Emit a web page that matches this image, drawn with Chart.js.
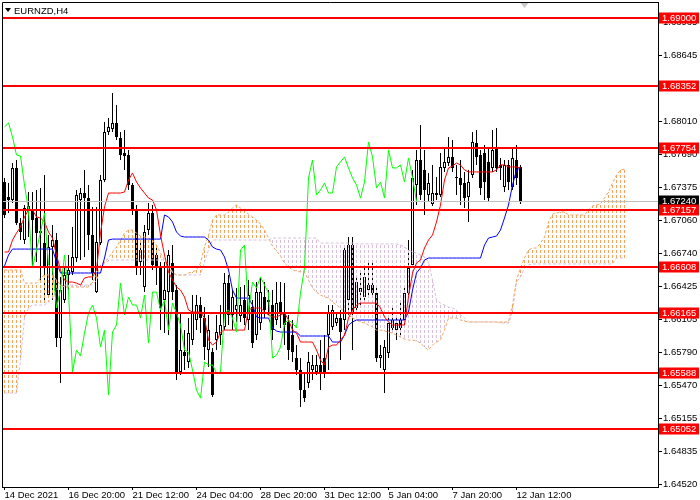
<!DOCTYPE html>
<html><head><meta charset="utf-8">
<style>html,body{margin:0;padding:0;background:#fff;}</style>
<script src="https://cdn.jsdelivr.net/npm/chart.js@4.4.1/dist/chart.umd.min.js"></script>
</head><body>
<canvas id="c" width="700" height="500"></canvas>
<script>
const symbolTitle = 'EURNZD,H4';
const xTickIndex = [0,16,32,48,64,80,96,112,128];
const xTickLabels = ['14 Dec 2021','16 Dec 20:00','21 Dec 12:00','24 Dec 04:00','28 Dec 20:00','31 Dec 12:00','5 Jan 04:00','7 Jan 20:00','12 Jan 12:00'];
const yTicks = [1.68965,1.68645,1.68330,1.68010,1.67690,1.67375,1.67060,1.66740,1.66425,1.66105,1.65790,1.65470,1.65155,1.64835,1.64520];
const levels = [1.69000,1.68352,1.67754,1.67157,1.66608,1.66165,1.65588,1.65052];
const bidPrice = 1.67240;

const open = [
1.67427,1.67283,1.67254,1.67562,1.67033,1.66869,1.67158,1.67158,1.67081,1.66955,
1.66840,1.66340,1.66802,1.66869,1.65926,1.66292,1.66533,1.66562,1.66696,1.67254,
1.67321,1.67273,1.66917,1.66369,1.66840,1.67446,1.67908,1.67937,1.67995,1.67850,
1.67706,1.67687,1.67398,1.67158,1.66658,1.66417,1.66965,1.67129,1.66725,1.66600,
1.66292,1.66369,1.66648,1.66388,1.65600,1.65792,1.65696,1.65907,1.66100,1.66244,
1.66119,1.65811,1.65792,1.65907,1.65955,1.66033,1.66455,1.66148,1.66196,1.66138,
1.66292,1.66100,1.66225,1.65955,1.66071,1.66321,1.66273,1.66244,1.66100,1.66273,
1.66167,1.66081,1.65955,1.65734,1.65619,1.65426,1.65493,1.65619,1.65600,1.65667,
1.65734,1.65955,1.66033,1.66071,1.66119,1.66100,1.66292,1.66821,1.66215,1.66369,
1.66321,1.66388,1.66436,1.66359,1.65734,1.65619,1.65782,1.66023,1.66003,1.66100,
1.66100,1.66359,1.66629,1.67398,1.67639,1.67543,1.67302,1.67216,1.67302,1.67302,
1.67562,1.67610,1.67668,1.67475,1.67466,1.67417,1.67283,1.67495,1.67802,1.67687,
1.67706,1.67620,1.67562,1.67754,1.67591,1.67379,1.67591,1.67379,1.67639,1.67572];
const high = [
1.67466,1.67417,1.67610,1.67639,1.67081,1.67206,1.67331,1.67331,1.67350,1.67369,
1.67495,1.66917,1.67014,1.66936,1.66514,1.66600,1.66725,1.66995,1.67350,1.67369,
1.67543,1.67398,1.67187,1.67187,1.67495,1.68005,1.68043,1.68283,1.68168,1.67908,
1.67927,1.67735,1.67417,1.67206,1.66869,1.67014,1.67225,1.67206,1.66821,1.66658,
1.66658,1.66773,1.66821,1.66436,1.66167,1.66003,1.66119,1.66340,1.66340,1.66321,
1.66225,1.66148,1.65830,1.66148,1.66244,1.66552,1.66533,1.66388,1.66407,1.66417,
1.66436,1.66484,1.66292,1.66465,1.66504,1.66465,1.66388,1.66388,1.66465,1.66465,
1.66455,1.66148,1.66100,1.65859,1.65734,1.65600,1.65792,1.65763,1.65763,1.65907,
1.65955,1.66244,1.66244,1.66177,1.66196,1.66821,1.66898,1.66898,1.66533,1.66562,
1.66629,1.66658,1.66677,1.66407,1.65859,1.65907,1.66119,1.66244,1.66148,1.66292,
1.66436,1.66869,1.67543,1.67735,1.67976,1.67735,1.67514,1.67591,1.67475,1.67706,
1.67754,1.67860,1.67831,1.67591,1.67639,1.67524,1.67543,1.67908,1.67927,1.67735,
1.67783,1.67754,1.67927,1.67947,1.67658,1.67639,1.67639,1.67754,1.67783,1.67591];
const low = [
1.67081,1.67129,1.67225,1.67014,1.66869,1.66831,1.66898,1.66610,1.66658,1.66455,
1.66292,1.66311,1.66292,1.65840,1.65493,1.66263,1.66388,1.66533,1.66658,1.66677,
1.66706,1.66773,1.66484,1.66359,1.66821,1.67427,1.67879,1.67908,1.67831,1.67639,
1.67543,1.67350,1.67110,1.66533,1.66533,1.66369,1.66917,1.66581,1.66436,1.66003,
1.65974,1.65955,1.66292,1.65522,1.65571,1.65619,1.65638,1.65859,1.66003,1.65974,
1.65715,1.65648,1.65359,1.65811,1.65859,1.66003,1.66052,1.66003,1.66081,1.66081,
1.66052,1.66003,1.65830,1.65907,1.66003,1.66119,1.66148,1.65907,1.66052,1.66023,
1.65859,1.65715,1.65696,1.65571,1.65263,1.65311,1.65445,1.65522,1.65571,1.65426,
1.65542,1.65619,1.66003,1.66042,1.65715,1.66003,1.66148,1.65811,1.66177,1.66244,
1.66292,1.66340,1.66311,1.65696,1.65638,1.65397,1.65734,1.65984,1.65907,1.65955,
1.66052,1.66321,1.66600,1.67206,1.67254,1.67110,1.67235,1.67196,1.67254,1.67283,
1.67524,1.67581,1.67524,1.67302,1.67206,1.67177,1.67043,1.67466,1.67591,1.67302,
1.67254,1.67235,1.67524,1.67524,1.67446,1.67331,1.67350,1.67350,1.67398,1.67216];
const close = [
1.67110,1.67254,1.67562,1.67033,1.66946,1.67177,1.67196,1.67062,1.66936,1.66936,
1.66600,1.66802,1.66869,1.65926,1.66388,1.66533,1.66581,1.66706,1.67302,1.67321,
1.67273,1.66917,1.66552,1.66850,1.67446,1.67908,1.67957,1.67995,1.67860,1.67687,
1.67677,1.67398,1.67158,1.66600,1.66773,1.66946,1.67129,1.66629,1.66600,1.66215,
1.66388,1.66725,1.66369,1.65600,1.65811,1.65753,1.65974,1.66167,1.66244,1.66119,
1.65840,1.66003,1.65378,1.65984,1.66052,1.66455,1.66148,1.66321,1.66244,1.66244,
1.66119,1.66340,1.65878,1.66369,1.66369,1.66196,1.66292,1.66003,1.66263,1.66167,
1.66052,1.65811,1.65792,1.65619,1.65426,1.65349,1.65696,1.65667,1.65667,1.65590,
1.65600,1.66167,1.66196,1.66119,1.65984,1.66773,1.66821,1.66177,1.66465,1.66407,
1.66514,1.66436,1.66359,1.65734,1.65763,1.65840,1.66071,1.66100,1.66071,1.66023,
1.66359,1.66600,1.67466,1.67639,1.67302,1.67350,1.67417,1.67321,1.67321,1.67572,
1.67620,1.67668,1.67562,1.67466,1.67398,1.67273,1.67427,1.67812,1.67668,1.67369,
1.67427,1.67273,1.67735,1.67562,1.67562,1.67591,1.67427,1.67658,1.67466,1.67240];
const tenkan = [
1.66754,1.66754,1.66869,1.66936,1.66995,1.67091,1.67158,1.67158,1.67091,1.67081,
1.67043,1.66946,1.66888,1.66725,1.66581,1.66484,1.66465,1.66465,1.66455,1.66436,
1.66504,1.66514,1.66514,1.66581,1.66936,1.67187,1.67321,1.67321,1.67321,1.67321,
1.67331,1.67446,1.67514,1.67427,1.67369,1.67321,1.67273,1.67254,1.67158,1.66917,
1.66725,1.66562,1.66484,1.66417,1.66388,1.66321,1.66196,1.66177,1.66177,1.66177,
1.66119,1.65907,1.65859,1.65888,1.65984,1.66003,1.66003,1.66003,1.66003,1.66003,
1.66003,1.66196,1.66215,1.66215,1.66215,1.66177,1.66148,1.66129,1.66129,1.66148,
1.66167,1.66100,1.66003,1.65974,1.65888,1.65888,1.65888,1.65888,1.65811,1.65715,
1.65667,1.65840,1.65859,1.65859,1.65907,1.65955,1.66119,1.66196,1.66244,1.66263,
1.66263,1.66263,1.66263,1.66263,1.66215,1.66129,1.66081,1.66052,1.66052,1.66052,
1.66052,1.66321,1.66552,1.66648,1.66677,1.66792,1.66869,1.66917,1.67043,1.67206,
1.67446,1.67562,1.67581,1.67610,1.67591,1.67543,1.67524,1.67524,1.67524,1.67524,
1.67524,1.67524,1.67524,1.67543,1.67591,1.67591,1.67572,1.67572,1.67572,1.67562];
const kijun = [
1.66619,1.66725,1.66782,1.66782,1.66782,1.66782,1.66782,1.66782,1.66782,1.66782,
1.66782,1.66782,1.66782,1.66658,1.66552,1.66552,1.66552,1.66552,1.66552,1.66552,
1.66552,1.66552,1.66552,1.66552,1.66552,1.66696,1.66869,1.66878,1.66878,1.66878,
1.66878,1.66878,1.66878,1.66878,1.66878,1.66878,1.66878,1.66878,1.66878,1.66878,
1.67110,1.67091,1.67043,1.66946,1.66907,1.66898,1.66898,1.66898,1.66898,1.66898,
1.66898,1.66869,1.66802,1.66782,1.66773,1.66706,1.66581,1.66388,1.66311,1.66311,
1.66311,1.66311,1.66244,1.66129,1.66119,1.66119,1.66119,1.66023,1.65994,1.65984,
1.65984,1.65984,1.65984,1.65984,1.65946,1.65946,1.65946,1.65946,1.65946,1.65946,
1.65946,1.65946,1.65888,1.65888,1.65888,1.65955,1.66052,1.66081,1.66100,1.66100,
1.66100,1.66100,1.66100,1.66100,1.66100,1.66100,1.66100,1.66100,1.66100,1.66100,
1.66100,1.66177,1.66388,1.66552,1.66600,1.66677,1.66696,1.66696,1.66696,1.66696,
1.66696,1.66696,1.66696,1.66696,1.66696,1.66696,1.66696,1.66696,1.66696,1.66696,
1.66821,1.66888,1.66898,1.66907,1.66965,1.67081,1.67206,1.67398,1.67543,1.67562];
const spanA = [
1.66581,1.66581,1.66581,1.66581,1.66581,1.66455,1.66455,1.66455,1.66455,1.66504,
1.66533,1.66533,1.66533,1.66484,1.66436,1.66417,1.66417,1.66417,1.66417,1.66417,
1.66417,1.66417,1.66465,1.66533,1.66629,1.66658,1.66696,1.66754,1.66802,1.66869,
1.66936,1.66965,1.66965,1.66936,1.66907,1.66898,1.66888,1.66869,1.66821,1.66744,
1.66677,1.66600,1.66552,1.66533,1.66533,1.66533,1.66552,1.66562,1.66581,1.66648,
1.66802,1.66917,1.67062,1.67110,1.67110,1.67110,1.67139,1.67177,1.67206,1.67177,
1.67148,1.67119,1.67091,1.67062,1.67023,1.66965,1.66888,1.66811,1.66763,1.66715,
1.66648,1.66610,1.66581,1.66571,1.66562,1.66562,1.66484,1.66407,1.66369,1.66340,
1.66321,1.66311,1.66273,1.66244,1.66215,1.66177,1.66148,1.66119,1.66100,1.66081,
1.66071,1.66052,1.66033,1.66003,1.66003,1.65994,1.65984,1.65974,1.65955,1.65936,
1.65917,1.65907,1.65907,1.65898,1.65878,1.65840,1.65811,1.65859,1.65888,1.65907,
1.66003,1.66119,1.66119,1.66119,1.66100,1.66090,1.66081,1.66081,1.66081,1.66081,
1.66081,1.66081,1.66081,1.66081,1.66081,1.66081,1.66081,1.66244,1.66484,1.66600,
1.66696,1.66773,1.66792,1.66792,1.66840,1.66898,1.67043,1.67119,1.67129,1.67139,
1.67139,1.67110,1.67110,1.67110,1.67110,1.67110,1.67158,1.67196,1.67206,1.67216,
1.67273,1.67331,1.67417,1.67495,1.67543,1.67552];
const spanB = [
1.65397,1.65397,1.65397,1.65397,1.65715,1.66119,1.66215,1.66244,1.66244,1.66244,
1.66244,1.66273,1.66311,1.66388,1.66427,1.66436,1.66436,1.66436,1.66436,1.66436,
1.66436,1.66436,1.66436,1.66484,1.66581,1.66648,1.66667,1.66677,1.66677,1.66677,
1.66677,1.66677,1.66677,1.66677,1.66677,1.66677,1.66677,1.66677,1.66677,1.66677,
1.66677,1.66629,1.66562,1.66533,1.66533,1.66533,1.66533,1.66533,1.66533,1.66533,
1.66658,1.66773,1.66869,1.66869,1.66869,1.66869,1.66869,1.66869,1.66869,1.66869,
1.66869,1.66869,1.66869,1.66869,1.66869,1.66869,1.66869,1.66888,1.66888,1.66888,
1.66888,1.66888,1.66888,1.66888,1.66888,1.66888,1.66888,1.66888,1.66888,1.66840,
1.66840,1.66840,1.66840,1.66840,1.66840,1.66840,1.66840,1.66840,1.66831,1.66831,
1.66831,1.66831,1.66831,1.66831,1.66831,1.66831,1.66831,1.66831,1.66831,1.66821,
1.66802,1.66773,1.66754,1.66744,1.66725,1.66706,1.66658,1.66484,1.66292,1.66263,
1.66244,1.66225,1.66215,1.66196,1.66148,1.66119,1.66081,1.66081,1.66081,1.66081,
1.66081,1.66081,1.66081,1.66081,1.66071,1.66071,1.66071,1.66177,1.66465,1.66514,
1.66600,1.66629,1.66639,1.66639,1.66639,1.66639,1.66639,1.66639,1.66639,1.66639,
1.66639,1.66639,1.66639,1.66639,1.66639,1.66639,1.66639,1.66639,1.66639,1.66639,
1.66639,1.66639,1.66639,1.66696,1.66696,1.66696];
const chikouShift = 26;

const FONT = '"Liberation Sans", Arial, sans-serif';
function hatch(color) {
  const c = document.createElement('canvas'); c.width = 1; c.height = 5;
  const g = c.getContext('2d'); g.fillStyle = color; g.fillRect(0, 0, 1, 3);
  return g.createPattern(c, 'repeat');
}
const hatchA = hatch('#F4A460'), hatchB = hatch('#D8BFD8');

const wickData = open.map((o, i) => ({x: i, y: [low[i], high[i]]}));
const bodyData = open.map((o, i) => ({x: i, y: [o, close[i]]}));
const bodyColors = open.map((o, i) => close[i] >= o ? '#FFFFFF' : '#000000');
const cloudData = spanA.map((a, i) => ({x: i, y: [a, spanB[i]]}));
const cloudColors = spanA.map((a, i) => a >= spanB[i] ? hatchA : hatchB);
const pts = arr => arr.map((v, i) => ({x: i, y: v}));
const chikou = close.slice(chikouShift).map((v, j) => ({x: j, y: v}));

const overlay = {
  id: 'overlay',
  afterDatasetsDraw(chart) {
    const {ctx, chartArea: a, scales: {y}} = chart;
    ctx.save();
    const by = Math.round(y.getPixelForValue(bidPrice)) + 0.5;
    ctx.strokeStyle = '#C0C0C0'; ctx.lineWidth = 1;
    ctx.beginPath(); ctx.moveTo(a.left, by); ctx.lineTo(a.right, by); ctx.stroke();
    ctx.fillStyle = '#FF0000';
    levels.forEach(p => {
      const py = Math.round(y.getPixelForValue(p));
      ctx.fillRect(a.left, py - 1, a.right - a.left, 2);
    });
    ctx.restore();
  },
  afterDraw(chart) {
    const {ctx, chartArea: a, scales: {x, y}} = chart;
    ctx.save();
    ctx.strokeStyle = '#000'; ctx.lineWidth = 1;
    ctx.beginPath();
    ctx.moveTo(a.left + 0.5, a.bottom); ctx.lineTo(a.left + 0.5, a.top + 0.5); ctx.lineTo(a.right, a.top + 0.5);
    ctx.stroke();
    ctx.font = '9.5px ' + FONT; ctx.textBaseline = 'middle'; ctx.textAlign = 'left';
    const tag = (p, bg) => {
      const py = Math.round(y.getPixelForValue(p));
      ctx.fillStyle = bg; ctx.fillRect(a.right + 1, py - 5.5, 40, 11);
      ctx.fillStyle = '#FFFFFF'; ctx.fillText(p.toFixed(5), a.right + 4, py + 0.5);
    };
    tag(bidPrice, '#000000');
    levels.forEach(p => tag(p, '#FF0000'));
    // title
    ctx.fillStyle = '#000';
    ctx.beginPath(); ctx.moveTo(a.left + 3, a.top + 6); ctx.lineTo(a.left + 9, a.top + 6); ctx.lineTo(a.left + 6, a.top + 10); ctx.closePath(); ctx.fill();
    ctx.fillText(symbolTitle, a.left + 12, a.top + 9);
    // chart shift marker
    const sx = x.getPixelForValue(open.length);
    ctx.fillStyle = '#C8C8C8';
    ctx.beginPath(); ctx.moveTo(sx - 4, a.top + 1); ctx.lineTo(sx + 4, a.top + 1); ctx.lineTo(sx, a.top + 6); ctx.closePath(); ctx.fill();
    ctx.restore();
  }
};

Chart.defaults.font.family = FONT;
Chart.defaults.font.size = 9.5;
Chart.defaults.color = '#000';

new Chart(document.getElementById('c'), {
  type: 'bar',
  data: {
    datasets: [
      {type: 'line', label: 'Tenkan', data: pts(tenkan), borderColor: '#FF0000', borderWidth: 1, pointRadius: 0, tension: 0, fill: false, order: 1},
      {type: 'line', label: 'Kijun', data: pts(kijun), borderColor: '#0000FF', borderWidth: 1, pointRadius: 0, tension: 0, fill: false, order: 2},
      {type: 'line', label: 'Chikou', data: chikou, borderColor: '#00FF00', borderWidth: 1, pointRadius: 0, tension: 0, fill: false, order: 0},
      {type: 'line', label: 'SpanA', data: pts(spanA), borderColor: '#F4A460', borderWidth: 1, borderDash: [3, 2], pointRadius: 0, tension: 0, fill: false, order: 3},
      {type: 'line', label: 'SpanB', data: pts(spanB), borderColor: '#D8BFD8', borderWidth: 1, borderDash: [3, 2], pointRadius: 0, tension: 0, fill: false, order: 4},
      {label: 'Cloud', data: cloudData, backgroundColor: cloudColors, borderWidth: 0, barThickness: 1, grouped: false, inflateAmount: 0, order: 5},
      {label: 'Body', data: bodyData, backgroundColor: bodyColors, borderColor: '#000', borderWidth: 1, borderSkipped: false, barThickness: 3, grouped: false, inflateAmount: 0, minBarLength: 1, order: 6},
      {label: 'Wick', data: wickData, backgroundColor: '#000', borderWidth: 0, barThickness: 1, grouped: false, inflateAmount: 0, order: 7}
    ]
  },
  options: {
    responsive: false, animation: false,
    layout: {padding: {left: 2, top: 2, right: 0, bottom: 0}},
    plugins: {legend: {display: false}, tooltip: {enabled: false}},
    scales: {
      x: {
        type: 'linear', position: 'bottom', min: -0.625, max: 163.375, offset: false,
        grid: {drawOnChartArea: false, drawTicks: true, tickLength: 3, color: '#000', offset: false},
        border: {display: true, color: '#000', width: 1},
        afterBuildTicks: s => { s.ticks = xTickIndex.map(v => ({value: v})); },
        afterFit: s => { s.height = 13; s.paddingLeft = 0; s.paddingRight = 0; s.paddingTop = 0; s.paddingBottom = 0; },
        ticks: {autoSkip: false, maxRotation: 0, minRotation: 0, align: 'start', padding: 0, color: '#000',
          callback: v => { const k = xTickIndex.indexOf(v); return k >= 0 ? xTickLabels[k] : ''; }}
      },
      y: {
        type: 'linear', position: 'right', min: 1.64494, max: 1.69158, beginAtZero: false,
        grid: {drawOnChartArea: false, drawTicks: true, tickLength: 4, color: '#000'},
        border: {display: true, color: '#000', width: 1},
        afterBuildTicks: s => { s.ticks = yTicks.map(v => ({value: v})); },
        afterFit: s => { s.width = 42; s.paddingLeft = 0; s.paddingRight = 0; s.paddingTop = 0; s.paddingBottom = 0; },
        ticks: {autoSkip: false, padding: 1, color: '#000', callback: v => Number(v).toFixed(5)}
      }
    }
  },
  plugins: [overlay]
});
</script>
</body></html>
